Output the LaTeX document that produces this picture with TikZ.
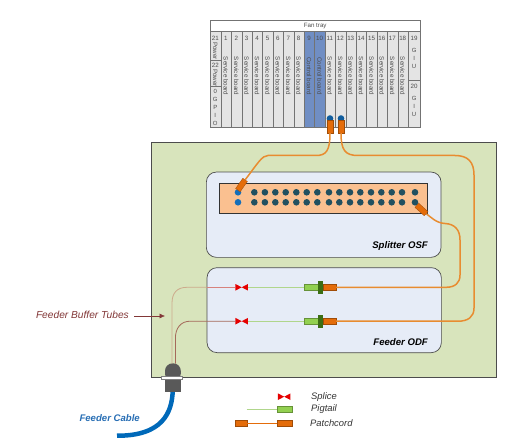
\documentclass[tikz,border=0pt]{standalone}
\usepackage{fontspec}
\setmainfont{Liberation Sans}
\usetikzlibrary{arrows.meta}
\definecolor{boxgreen}{RGB}{216,228,188}
\definecolor{boxblue}{RGB}{230,236,247}
\definecolor{panelorange}{RGB}{250,192,144}
\definecolor{fibreorange}{RGB}{232,140,48}
\definecolor{sleeveorange}{RGB}{228,108,10}
\definecolor{slotgrey}{RGB}{228,228,228}
\definecolor{slotblue}{RGB}{112,142,196}
\definecolor{portteal}{RGB}{33,80,96}
\definecolor{portblue}{RGB}{20,110,185}
\definecolor{pigfill}{RGB}{146,208,80}
\definecolor{pigline}{RGB}{176,214,140}
\definecolor{collargreen}{RGB}{60,110,20}
\definecolor{labelred}{RGB}{130,55,55}
\definecolor{labelblue}{RGB}{40,110,180}
\definecolor{cableblue}{RGB}{0,105,185}
\definecolor{tubetan}{RGB}{205,170,140}
\definecolor{tubepink}{RGB}{215,130,125}
\definecolor{tubebrown}{RGB}{165,105,90}
\tikzset{
  slot/.style={rectangle, draw=black!55, fill=slotgrey, line width=0.6pt, inner sep=0pt,
               minimum width=10.4pt, anchor=north west},
  slotctrl/.style={slot, fill=slotblue},
  slottext/.style={inner sep=0pt, text=black!70, font=\fontsize{6.2}{7}\selectfont},
  slotstack/.style={slottext, align=center, font=\fontsize{6}{8}\selectfont},
  bigbox/.style={rectangle, draw=black!70, fill=boxgreen, line width=0.7pt, inner sep=0pt, anchor=north west},
  unitbox/.style={rectangle, rounded corners=10pt, draw=black!70, fill=boxblue, line width=0.7pt,
                  inner sep=0pt, anchor=north west},
  unitlabel/.style={inner sep=0pt, anchor=east, font=\fontsize{9.6}{11}\selectfont\bfseries\itshape},
  port/.style={circle, fill=portteal, minimum size=6.6pt, inner sep=0pt},
  portb/.style={port, fill=portblue},
  sleeve/.style={rectangle, fill=sleeveorange, draw=sleeveorange!70!black, line width=0.3pt,
                 minimum width=12.5pt, minimum height=5.6pt, inner sep=0pt},
  bluecap/.style={circle, fill=portblue!85!black, minimum size=6.6pt, inner sep=0pt},
  fibre/.style={line width=1.5pt, fibreorange},
  splice/.style={rectangle, minimum width=12.5pt, minimum height=6.6pt, inner sep=0pt,
                 path picture={\fill[red!90!black]
                   (path picture bounding box.north west) -- (path picture bounding box.center)
                   -- (path picture bounding box.north east) -- (path picture bounding box.south east)
                   -- (path picture bounding box.center) -- (path picture bounding box.south west) -- cycle;}},
  pig/.style={rectangle, fill=pigfill, draw=pigfill!70!black, line width=0.3pt,
              minimum width=14pt, minimum height=6.4pt, inner sep=0pt},
  collar/.style={rectangle, fill=collargreen, minimum width=4.6pt, minimum height=12.6pt, inner sep=0pt},
  patchend/.style={rectangle, fill=sleeveorange, draw=sleeveorange!70!black, line width=0.3pt,
                   minimum width=13pt, minimum height=6pt, inner sep=0pt},
  legendtext/.style={inner sep=0pt, anchor=west, text=black!80, font=\fontsize{9.4}{11}\selectfont\itshape},
  plugpart/.style={rectangle, fill=black!65, inner sep=0pt},
}
\begin{document}
\begin{tikzpicture}[x=1pt, y=-1pt]
  \useasboundingbox (0,0) rectangle (510,446);

  % ---- rack -----------------------------------------------------------------
  \node[slot, fill=white, minimum width=209.8pt, minimum height=11pt] (fanTray) at (210,20) {};
  \node[slottext] (fanLabel) at (fanTray.center) {Fan tray};
  \foreach \s in {1,...,8,11,12,...,18} {
    \pgfmathsetmacro{\slotx}{220.7+10.4*(\s-1)}
    \node[slot, minimum height=96pt] (slot\s) at (\slotx,31) {};
    \node[slottext] (num\s) at (\slotx+5.2,38) {\s};
    \node[slottext, rotate=-90] (name\s) at (\slotx+5.2,76) {Service board};
  }
  \foreach \s in {9,10} {
    \pgfmathsetmacro{\slotx}{220.7+10.4*(\s-1)}
    \node[slotctrl, minimum height=96pt] (slot\s) at (\slotx,31) {};
    \node[slottext] (num\s) at (\slotx+5.2,38) {\s};
    \node[slottext, rotate=-90] (name\s) at (\slotx+5.2,76) {Control board};
  }
  % left column
  \node[slot, minimum width=10.7pt, minimum height=29pt] (slot21) at (210,31) {};
  \node[slot, minimum width=10.7pt, minimum height=26pt] (slot22) at (210,60) {};
  \node[slot, minimum width=10.7pt, minimum height=41pt] (slot0) at (210,86) {};
  \node[slottext] (num21) at (215.3,38) {21};
  \node[slottext, rotate=-90] (name21) at (215.3,51) {Power};
  \node[slottext] (num22) at (215.3,65) {22};
  \node[slottext, rotate=-90] (name22) at (215.3,78) {Power};
  \node[slotstack] (name0) at (215.3,107) {0\\G\\P\\I\\O};
  % right column
  \node[slot, minimum width=11.7pt, minimum height=49pt] (slot19) at (408.3,31) {};
  \node[slot, minimum width=11.7pt, minimum height=47pt] (slot20) at (408.3,80) {};
  \node[slottext] (num19) at (414.1,38) {19};
  \node[slotstack] (name19) at (414.1,58) {G\\I\\U};
  \node[slottext] (num20) at (414.1,86) {20};
  \node[slotstack] (name20) at (414.1,106) {G\\I\\U};

  % ---- frame and units --------------------------------------------------------
  \node[bigbox, minimum width=345pt, minimum height=235pt] (frame) at (150.7,142) {};
  \node[unitbox, minimum width=234.7pt, minimum height=85.3pt] (splitterBox) at (206,171.7) {};
  \node[unitbox, minimum width=234.3pt, minimum height=85pt] (odfBox) at (206.7,267.3) {};
  \node[unitlabel] (splitterLabel) at (428,246) {Splitter OSF};
  \node[unitlabel] (odfLabel) at (428,342) {Feeder ODF};

  % ---- splitter panel ---------------------------------------------------------
  \node[rectangle, draw=black!80, fill=panelorange, line width=0.6pt, inner sep=0pt,
        minimum width=207.4pt, minimum height=30pt, anchor=north west] (panel) at (219.3,182.7) {};
  \node[portb] (inA) at (238,192.3) {};
  \node[portb] (inB) at (238,202.3) {};
  \foreach \x [count=\c] in {254.3,264.9,275.3,285.7,296.3,306.7,317.3,329,339.3,350,360.3,371,381.3,391.7,402,415} {
    \node[port] (upA\c) at (\x,192.3) {};
    \node[port] (upB\c) at (\x,202.3) {};
  }

  % ---- connectors on the rack and the panel -----------------------------------
  \node[bluecap] (capA) at (330,118.5) {};
  \node[bluecap] (capB) at (341,118.5) {};
  \node[sleeve, minimum width=5.4pt, minimum height=13pt] (conA) at (330,126.4) {};
  \node[sleeve, minimum width=5.4pt, minimum height=13pt] (conB) at (341,126.4) {};
  \node[sleeve, rotate=55] (sleeveIn) at (241.5,185) {};
  \node[sleeve, rotate=-42] (sleeveOut) at (421.5,209.5) {};

  % ---- feeder rows ------------------------------------------------------------
  \foreach \n/\y in {A/287.3,B/321.2} {
    \node[splice] (splice\n) at (241.7,\y) {};
    \node[pig] (pig\n) at (311.2,\y) {};
    \node[patchend] (patch\n) at (329.5,\y) {};
    \node[collar] (collar\n) at (320.5,\y) {};
    \draw[pigline, line width=0.9pt] (splice\n.east) -- (pig\n.west);
  }

  % ---- plug and cable ---------------------------------------------------------
  \draw[cableblue, line width=4.5pt] (172.7,391) .. controls (172,412) and (163,436) .. (117,435.7);
  \node[plugpart, rounded corners=7.6pt, minimum width=15.8pt, minimum height=18pt] (plugDome) at (172.9,372.3) {};
  \node[plugpart, minimum width=15.8pt, minimum height=14pt] (plugBody) at (172.9,385) {};
  \node[rectangle, fill=white, draw=black!50, line width=0.5pt, inner sep=0pt,
        minimum width=21.4pt, minimum height=3.4pt] (plugFlange) at (172,378) {};
  \coordinate (tubeA) at (172,363.5);
  \coordinate (tubeB) at (175.4,363.5);

  % ---- fibres -----------------------------------------------------------------
  \draw[fibre] (conA.south) .. controls (330,151) and (326,155.5) .. (316,155.5)
    -- (268,155.5) .. controls (262,155.5) and (258,163) .. (sleeveIn.east);
  \draw[fibre] (conB.south) .. controls (341,150) and (345,155.5) .. (358,155.5)
    -- (455,155.5) .. controls (468,155.5) and (474,162) .. (474,175)
    -- (474,308) .. controls (474,317) and (468,321.2) .. (458,321.2) -- (patchB.east);
  \draw[fibre] (sleeveOut.east) .. controls (431,217) and (436,223) .. (445,223.5)
    .. controls (455,224) and (460,230) .. (460,240)
    -- (460,275) .. controls (460,283) and (455,287.3) .. (446,287.3) -- (patchA.east);

  % ---- buffer tubes -----------------------------------------------------------
  \draw[tubetan, line width=0.8pt] (tubeA) -- (172,303)
    .. controls (172,293) and (177,287.3) .. (187,287.3) -- (spliceA -| odfBox.west);
  \draw[tubepink, line width=0.8pt] (spliceA -| odfBox.west) -- (spliceA.west);
  \draw[tubebrown, line width=0.8pt] (tubeB) -- (175.4,338)
    .. controls (175.4,328) and (181,321.2) .. (190,321.2) -- (spliceB.west);

  % ---- labels -----------------------------------------------------------------
  \node[inner sep=0pt, anchor=east, text=labelred, font=\fontsize{10.2}{12}\selectfont\itshape]
    (bufferLabel) at (129,315) {Feeder Buffer Tubes};
  \coordinate (bufferTip) at (165,316);
  \draw[-{Latex[length=5.5pt,width=5pt]}, labelred, line width=0.5pt]
    ([xshift=5pt,yshift=-1pt]bufferLabel.east) -- (bufferTip);
  \node[inner sep=0pt, anchor=east, text=labelblue, font=\fontsize{9.6}{12}\selectfont\bfseries\itshape]
    (cableLabel) at (140,417.7) {Feeder Cable};

  % ---- legend -----------------------------------------------------------------
  \node[splice] (legSplice) at (284.2,396.7) {};
  \node[pig, minimum width=14.4pt] (legPig) at (284.5,409) {};
  \node[patchend, minimum width=14.4pt] (legPatch) at (284.5,423.2) {};
  \node[patchend, minimum width=12pt] (legPatchEnd) at (241,423.2) {};
  \coordinate (legPigEnd) at (246.7,409);
  \draw[pigline, line width=0.7pt] (legPigEnd) -- (legPig.west);
  \draw[sleeveorange, line width=0.8pt] (legPatchEnd.east) -- (legPatch.west);
  \node[legendtext] (legSpliceText) at (311,396.7) {Splice};
  \node[legendtext] (legPigText) at (311,409.5) {Pigtail};
  \node[legendtext] (legPatchText) at (310,423.2) {Patchcord};
\end{tikzpicture}
\end{document}
